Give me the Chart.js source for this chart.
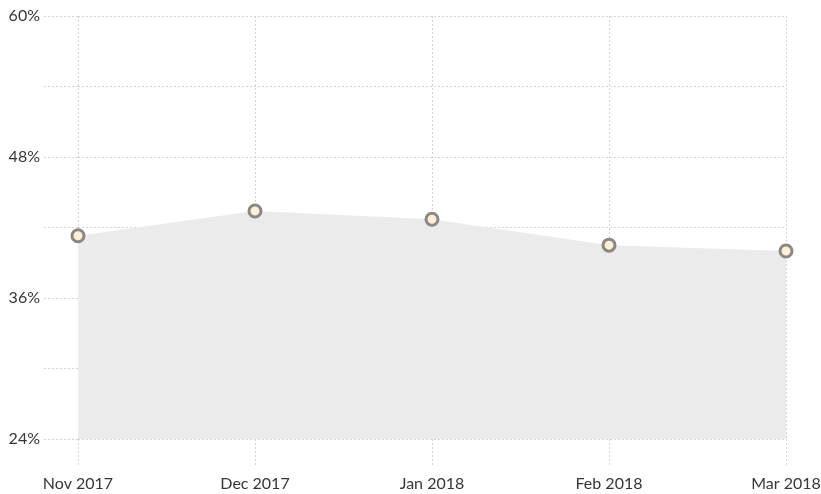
<!DOCTYPE html>
<html>
<head>
<meta charset="utf-8">
<script src="https://cdn.jsdelivr.net/npm/chart.js@4"></script>
<style>
  html, body { margin: 0; padding: 0; background: #fff; }
  #wrap { width: 821px; height: 494px; }
</style>
</head>
<body>
<div id="wrap"><canvas id="shareChart"></canvas></div>
<script>
var months = ["Nov 2017", "Dec 2017", "Jan 2018", "Feb 2018", "Mar 2018"];
var shareValues = [41.3, 43.4, 42.7, 40.5, 40.0];
var yMin = 24;
var yMax = 60;
var gridStep = 6;
var labelStep = 12;

var ctx = document.getElementById("shareChart").getContext("2d");

var tickFont = { family: "Lato", size: 16 };

var config = {
  type: "line",
  data: {
    labels: months,
    datasets: [
      {
        data: shareValues,
        fill: "start",
        backgroundColor: "#ebebeb",
        borderColor: "#ebebeb",
        borderWidth: 0,
        lineTension: 0,
        pointRadius: 6,
        pointHoverRadius: 6,
        pointBackgroundColor: "#fcf0dc",
        pointBorderColor: "#8e8680",
        pointBorderWidth: 3,
      },
    ],
  },
  options: {
    responsive: true,
    maintainAspectRatio: false,
    animation: false,
    layout: { padding: { top: 16, left: 0, right: 0, bottom: 0 } },
    plugins: { legend: { display: false }, tooltip: { enabled: false } },
    scales: {
      x: {
        border: { display: false, dash: [2, 2] },
        grid: { color: "#d4d4d4", tickLength: 26, tickBorderDash: [2, 2] },
        ticks: { color: "#363636", font: tickFont, padding: 9, maxRotation: 0 },
        afterFit: function (scale) {
          scale.height = 55;
          scale.paddingRight = 35;
        },
      },
      y: {
        min: yMin,
        max: yMax,
        border: { display: false, dash: [2, 2] },
        grid: { color: "#d4d4d4", tickLength: 34, tickBorderDash: [2, 2] },
        ticks: {
          stepSize: gridStep,
          color: "#363636",
          font: tickFont,
          padding: 4,
          callback: function (v) {
            return (v - yMin) % labelStep === 0 ? v + "%" : "";
          },
        },
        afterFit: function (scale) { scale.width = 78; },
      },
    },
  },
};

var myChart = new Chart(ctx, config);
</script>
</body>
</html>
